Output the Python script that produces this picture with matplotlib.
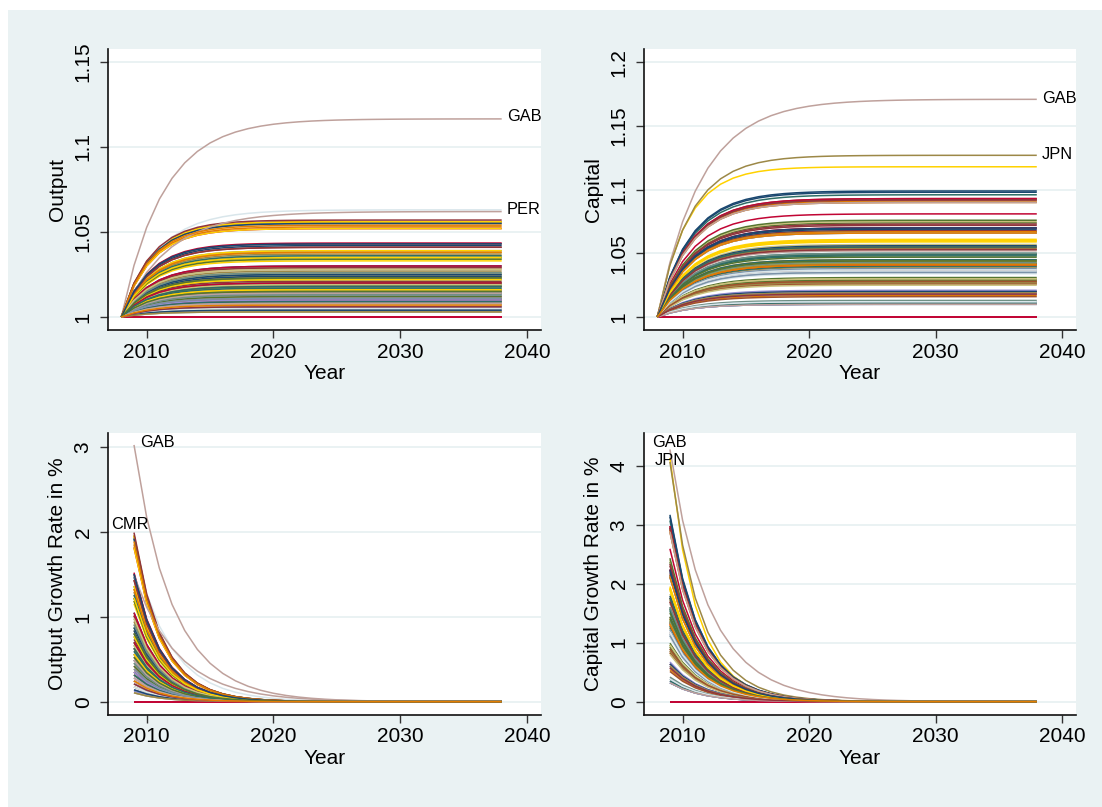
import numpy as np
import matplotlib
matplotlib.use("Agg")
import matplotlib.pyplot as plt
from matplotlib.patches import Rectangle

plt.rcParams['font.family'] = ['Liberation Sans', 'DejaVu Sans']

# simulation horizon
years = np.arange(2008, 2039)

# Stata s2color pen colours (p1..p15)
palette = ['#1a476f', '#90353b', '#55752f', '#e37e00', '#6e8e84',
           '#c10534', '#938dd2', '#cac27e', '#a0522d', '#7b92a8',
           '#2d6d66', '#9c8847', '#bfa19c', '#ffd200', '#d9e6eb']

# long-run gain over 2008 level, in percent (one entry per country)
out_gain = [4.2, 4.3, 1.9, 0.6, 5.5, 2.9, 0.4, 3.6, 0.9, 1.2, 5.6, 2.4, 2.8, 3.4, 1.1,
            2.4, 2.1, 3.5, 5.6, 1.6, 0.0, 0.5, 2.6, 0.8, 1.0, 1.8, 3.7, 0.5, 5.6, 1.4,
            1.8, 4.1, 1.6, 5.3, 3.9, 4.35, 0.3, 2.9, 0.7, 0.6, 2.0, 2.7, 11.65, 3.3, 6.3,
            2.3, 1.4, 2.0, 3.8, 1.7, 5.2, 0.9, 1.3, 1.1, 1.5, 3.6, 2.5, 1.0, 5.2, 0.8,
            3.0, 2.9, 2.2, 1.8, 1.4, 0.0, 0.35, 1.9, 1.2, 0.9, 3.5, 2.3, 1.2, 3.9, 0.6,
            5.5, 5.7, 1.2, 0.7, 2.5, 3.0, 0.8, 0.5, 0.7, 1.3, 1.7, 0.9, 6.2, 2.2, 1.5,
            2.5, 1.0, 3.4, 3.8, 1.3, 2.0, 1.0, 0.3, 1.5, 1.4, 0.9, 1.6, 1.4, 1.6, 0.5,
            0.4, 4.1, 1.5, 5.4, 2.6, 0.0, 0.6, 2.8, 0.7, 1.1, 1.8, 0.3, 0.8, 3.5, 0.7,
            4.3, 0.6, 2.3, 0.7]

cap_gain = [9.9, 6.8, 4.9, 4.2, 5.5, 7.0, 1.1, 5.7, 5.3, 3.6, 9.6, 4.0, 3.6, 6.0, 3.7,
            6.7, 9.3, 3.0, 9.1, 4.3, 0.0, 2.0, 2.8, 2.6, 3.5, 5.0, 2.8, 9.0, 11.8, 3.5,
            6.6, 9.2, 7.4, 6.7, 3.9, 8.1, 1.0, 7.5, 1.8, 1.2, 4.8, 3.9, 17.1, 5.9, 3.8,
            4.2, 2.0, 7.6, 1.7, 1.1, 9.3, 1.9, 2.9, 2.7, 3.6, 4.9, 12.7, 5.2, 6.1, 3.6,
            9.8, 7.3, 3.0, 4.5, 5.0, 0.0, 1.8, 2.6, 2.6, 1.2, 4.0, 5.4, 3.7, 4.1, 1.1,
            5.6, 9.2, 3.1, 9.0, 1.0, 7.0, 2.1, 3.0, 5.5, 1.0, 5.5, 2.7, 9.0, 6.0, 3.4,
            6.9, 5.3, 2.9, 4.4, 1.3, 4.1, 1.0, 2.5, 1.6, 3.5, 1.1, 4.2, 6.6, 4.3, 1.2,
            2.0, 7.2, 4.7, 6.6, 4.3, 0.0, 1.9, 3.0, 2.8, 3.8, 4.5, 1.9, 1.0, 6.0, 3.7,
            7.0, 1.8, 4.4, 4.1]

# share of the remaining gap closed each year
out_speed_default = 0.35
cap_speed_default = 0.32
out_speed = {42: 0.26, 87: 0.24, 44: 0.29}
cap_speed = {42: 0.25, 28: 0.35}

# labelled countries (index into the lists above)
out_labels = {'GAB': 42, 'PER': 87}
cap_labels = {'GAB': 42, 'JPN': 56}
gout_labels = {'GAB': 42, 'CMR': 28}
gcap_labels = {'GAB': 42, 'JPN': 56}


def path(gain, speed):
    return 1 + gain / 100.0 * (1 - (1 - speed) ** (years - 2008))


out_lev = [path(g, out_speed.get(i, out_speed_default)) for i, g in enumerate(out_gain)]
cap_lev = [path(g, cap_speed.get(i, cap_speed_default)) for i, g in enumerate(cap_gain)]
out_gr = [100 * (l[1:] / l[:-1] - 1) for l in out_lev]
cap_gr = [100 * (l[1:] / l[:-1] - 1) for l in cap_lev]

W, H = 1102, 807
fig = plt.figure(figsize=(W / 100, H / 100), dpi=100, facecolor='white')
fig.patches.append(Rectangle((8 / W, 0), 1 - 8 / W, 1 - 10 / H, transform=fig.transFigure,
                             facecolor='#eaf2f3', edgecolor='none', zorder=-10))


def make_ax(left, top, right, bottom):
    return fig.add_axes([left / W, 1 - bottom / H, (right - left) / W, (bottom - top) / H])


def style(ax, ylim, yticks, ylabel):
    ax.set_facecolor('white')
    ax.set_xlim(2006.95, 2041.1)
    ax.set_ylim(*ylim)
    ax.set_xticks([2010, 2020, 2030, 2040])
    ax.set_yticks(yticks)
    ax.set_yticklabels(['%g' % t for t in yticks])
    for s in ['top', 'right']:
        ax.spines[s].set_visible(False)
    for s in ['left', 'bottom']:
        ax.spines[s].set_linewidth(1.2)
        ax.spines[s].set_color('#111111')
    ax.tick_params(axis='both', labelsize=15, length=6, width=1.0, color='#333333')
    ax.tick_params(axis='y', labelrotation=90, pad=5)
    ax.tick_params(axis='x', pad=3)
    for lab in ax.get_yticklabels():
        lab.set_va('center')
    ax.grid(axis='y', color='#eaf2f3', lw=1.4)
    ax.set_axisbelow(True)
    ax.set_xlabel('Year', fontsize=15, labelpad=2)
    ax.set_ylabel(ylabel, fontsize=15, labelpad=5)


def draw(ax, x, series):
    for i, s in enumerate(series):
        ax.plot(x, s, color=palette[i % 15], lw=1.1, solid_capstyle='butt')


px = 72 / 100.0
lab_kw = dict(fontsize=11.8, textcoords='offset points', annotation_clip=False)

ax1 = make_ax(108, 49, 541, 330)
draw(ax1, years, out_lev)
style(ax1, (0.99235, 1.1576), [1, 1.05, 1.1, 1.15], 'Output')
for name, i in out_labels.items():
    ax1.annotate(name, (years[-1], out_lev[i][-1]), xytext=(5 * px, 2 * px),
                 ha='left', va='center', **lab_kw)

ax2 = make_ax(644, 49, 1076, 330)
draw(ax2, years, cap_lev)
style(ax2, (0.9898, 1.2105), [1, 1.05, 1.1, 1.15, 1.2], 'Capital')
for name, i in cap_labels.items():
    ax2.annotate(name, (years[-1], cap_lev[i][-1]), xytext=(5 * px, 1 * px),
                 ha='left', va='center', **lab_kw)

ax3 = make_ax(108, 433, 541, 715)
draw(ax3, years[1:], out_gr)
style(ax3, (-0.157, 3.17), [0, 1, 2, 3], 'Output Growth Rate in %')
i = gout_labels['GAB']
ax3.annotate('GAB', (years[1], out_gr[i][0]), xytext=(6 * px, 2 * px),
             ha='left', va='center', **lab_kw)
i = gout_labels['CMR']
ax3.annotate('CMR', (years[1], out_gr[i][0]), xytext=(-4 * px, 4 * px),
             ha='center', va='bottom', **lab_kw)

ax4 = make_ax(644, 433, 1076, 715)
draw(ax4, years[1:], cap_gr)
style(ax4, (-0.226, 4.555), [0, 1, 2, 3, 4], 'Capital Growth Rate in %')
i = gcap_labels['GAB']
ax4.annotate('GAB', (years[1], cap_gr[i][0]), xytext=(0, 7 * px),
             ha='center', va='center', **lab_kw)
i = gcap_labels['JPN']
ax4.annotate('JPN', (years[1], cap_gr[i][0]), xytext=(0, 1 * px),
             ha='center', va='center', **lab_kw)

fig.savefig('out.png', dpi=100, facecolor='white')
